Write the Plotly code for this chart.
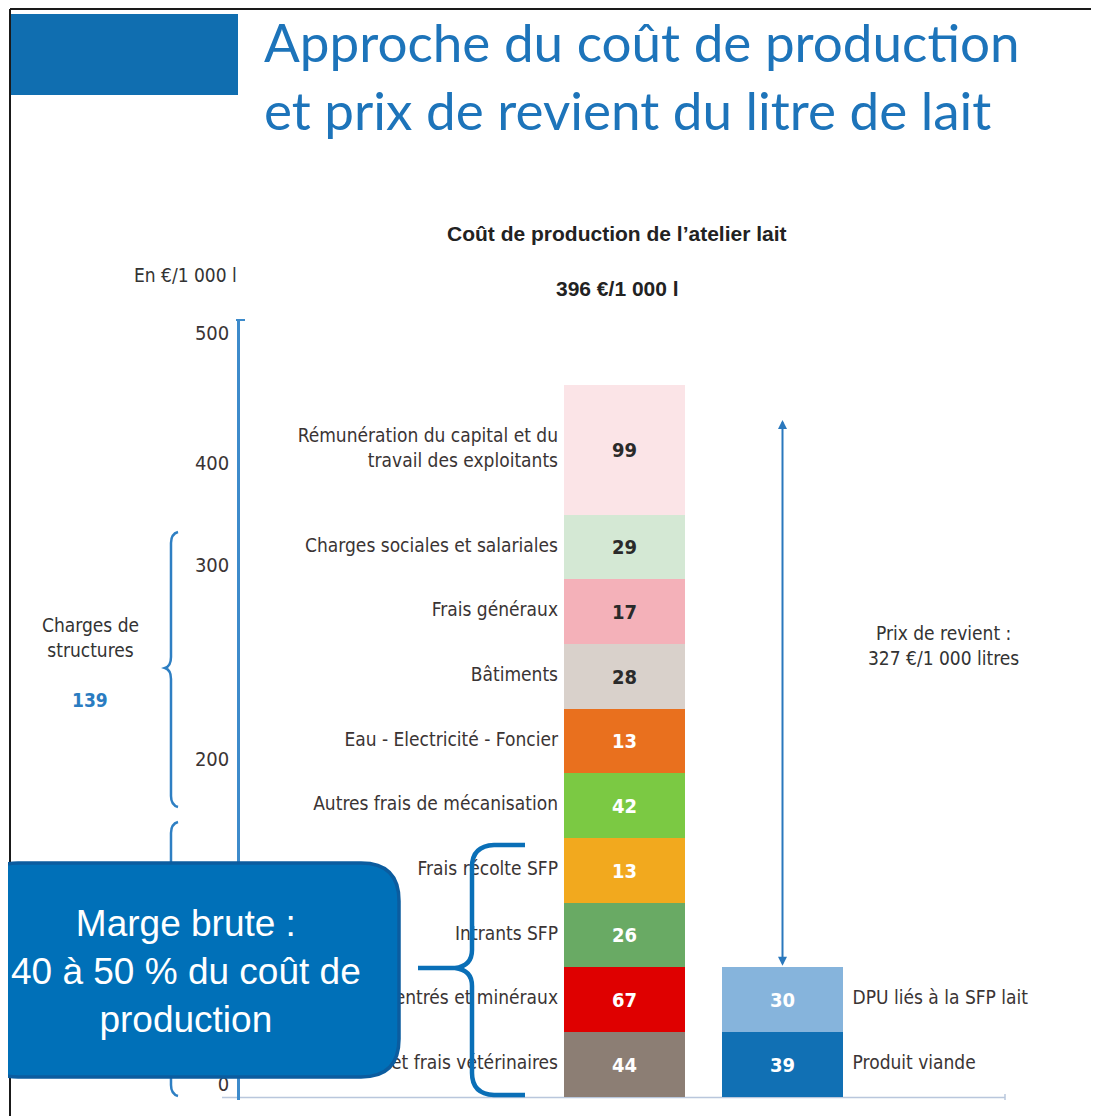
import plotly.graph_objects as go

REF_W, REF_H = 1099, 1116
OFF = 8                      # page body margin of the html page
W, H = REF_W - OFF, REF_H - OFF

# ---------------- data (bottom to top) ----------------
cost_labels = [
    "Frais d'élevage et frais vétérinaires",
    "Concentrés et minéraux",
    "Intrants SFP",
    "Frais récolte SFP",
    "Autres frais de mécanisation",
    "Eau - Electricité - Foncier",
    "Bâtiments",
    "Frais généraux",
    "Charges sociales et salariales",
    "Rémunération du capital et du<br>travail des exploitants",
]
cost_values = [44, 67, 26, 13, 42, 13, 28, 17, 29, 99]
cost_colors = ["#8c7e74", "#df0000", "#69aa64", "#f2a91e", "#7bc943",
               "#e9701e", "#d9d1cb", "#f4b1b9", "#d4e8d4", "#fbe4e7"]
cost_text_colors = ["white", "white", "white", "white", "white",
                    "white", "#2a2a2a", "#2a2a2a", "#2a2a2a", "#2a2a2a"]

prod_labels = ["Produit viande", "DPU liés à la SFP lait"]
prod_values = [39, 30]
prod_colors = ["#1170b4", "#86b4dc"]

y_tick_labels = ["0", "200", "300", "400", "500"]

# ---------------- layout helpers ----------------
NARROW = "Liberation Sans Narrow, Arial Narrow, DejaVu Sans Condensed, sans-serif"
SANS = "Liberation Sans, Arial, sans-serif"
UNIT = 64.65          # pixels per row of the infographic stack
BASE_PX = 1096.5      # pixel row of the stack base


def u(p):
    return (BASE_PX - p) / UNIT


def px(x):
    return (x - OFF) / W


def py(y):
    return 1 - (y - OFF) / H


y_tick_px = [1084, 759, 565, 463, 333]

# rows occupied by each block = number of lines of its label
cost_span = [lab.count("<br>") + 1 for lab in cost_labels]
cost_base = [sum(cost_span[:i]) for i in range(len(cost_span))]
prod_span = [lab.count("<br>") + 1 for lab in prod_labels]
prod_base = [sum(prod_span[:i]) for i in range(len(prod_span))]

BAR_STEP = 158.0      # px between bar centres
BAR_W = 121.0 / BAR_STEP
LABEL_GAP = 6.0 / BAR_STEP
x0_px, x1_px = 240, 1005
x_range = [0 - (624.5 - x0_px) / BAR_STEP, 1 + (x1_px - 782.5) / BAR_STEP]

fig = go.Figure()

fig.add_trace(go.Bar(
    x=[0] * len(cost_values), y=cost_span, base=cost_base, width=BAR_W,
    marker=dict(color=cost_colors, line=dict(width=0)),
    text=[str(v) for v in cost_values], textposition="inside",
    insidetextanchor="middle", textangle=0, constraintext="none",
    textfont=dict(color=cost_text_colors, size=20, family=NARROW, weight="bold"),
    hoverinfo="skip", showlegend=False, cliponaxis=False,
))
fig.add_trace(go.Bar(
    x=[1] * len(prod_values), y=prod_span, base=prod_base, width=BAR_W,
    marker=dict(color=prod_colors, line=dict(width=0)),
    text=[str(v) for v in prod_values], textposition="inside",
    insidetextanchor="middle", textangle=0, constraintext="none",
    textfont=dict(color="white", size=20, family=NARROW, weight="bold"),
    hoverinfo="skip", showlegend=False, cliponaxis=False,
))

# category labels (traces, so the callout box covers them)
fig.add_trace(go.Scatter(
    x=[0 - BAR_W / 2 - LABEL_GAP] * len(cost_labels),
    y=[b + s / 2 for b, s in zip(cost_base, cost_span)],
    mode="text", text=cost_labels, textposition="middle left",
    textfont=dict(size=19, color="#3a3434", family=NARROW),
    hoverinfo="skip", showlegend=False, cliponaxis=False,
))
fig.add_trace(go.Scatter(
    x=[1 + BAR_W / 2 + 1.6 * LABEL_GAP] * len(prod_labels),
    y=[b + s / 2 for b, s in zip(prod_base, prod_span)],
    mode="text", text=prod_labels, textposition="middle right",
    textfont=dict(size=19, color="#3a3434", family=NARROW),
    hoverinfo="skip", showlegend=False, cliponaxis=False,
))

shapes = []
line_blue = "#2e7fc3"

# frame and header decorations
shapes.append(dict(type="line", xref="paper", yref="paper", x0=px(10), x1=px(1099), y0=py(9), y1=py(9),
                   line=dict(color="#1a1a1a", width=2)))
shapes.append(dict(type="line", xref="paper", yref="paper", x0=px(10), x1=px(10), y0=py(9), y1=py(1116),
                   line=dict(color="#1a1a1a", width=2)))
shapes.append(dict(type="rect", xref="paper", yref="paper", x0=px(11), x1=px(238), y0=py(95), y1=py(14),
                   fillcolor="#106eb0", line=dict(width=0)))

# x base line and y axis cap
shapes.append(dict(type="line", xref="paper", yref="paper", x0=px(222), x1=px(1005), y0=py(1097.5), y1=py(1097.5),
                   line=dict(color="#b9c7dc", width=1.5), layer="below"))
shapes.append(dict(type="line", xref="paper", yref="paper", x0=px(1005), x1=px(1005), y0=py(1094), y1=py(1100),
                   line=dict(color="#b9c7dc", width=1.5)))
shapes.append(dict(type="line", xref="paper", yref="paper", x0=px(236), x1=px(245), y0=py(320), y1=py(320),
                   line=dict(color="#3d8bcb", width=2)))


def path(points_cmds):
    out = []
    for cmd in points_cmds:
        c = cmd[0]
        nums = cmd[1:]
        coords = []
        for i in range(0, len(nums), 2):
            coords.append(f"{px(nums[i]):.5f},{py(nums[i+1]):.5f}")
        out.append(c + " " + " ".join(coords))
    return " ".join(out)


def left_brace(xa, xs, xt, yt, ym, yb, r=11):
    return path([
        ("M", xa, yt), ("Q", xs, yt + 2, xs, yt + r), ("L", xs, ym - r),
        ("Q", xs, ym - 2, xt, ym), ("Q", xs, ym + 2, xs, ym + r), ("L", xs, yb - r),
        ("Q", xs, yb - 2, xa, yb),
    ])


shapes.append(dict(type="path", xref="paper", yref="paper",
                   path=left_brace(178, 171, 165, 532, 668, 807),
                   line=dict(color=line_blue, width=2.5)))
shapes.append(dict(type="path", xref="paper", yref="paper",
                   path=left_brace(178, 171, 165, 822, 959, 1096),
                   line=dict(color=line_blue, width=2.5)))


def rounded_rect(x0, y0, x1, y1, r):
    return path([
        ("M", x0 + r, y0), ("L", x1 - r, y0), ("Q", x1, y0, x1, y0 + r),
        ("L", x1, y1 - r), ("Q", x1, y1, x1 - r, y1), ("L", x0 + r, y1),
        ("Q", x0, y1, x0, y1 - r), ("L", x0, y0 + r), ("Q", x0, y0, x0 + r, y0),
    ]) + " Z"


shapes.append(dict(type="path", xref="paper", yref="paper", layer="above",
                   path=rounded_rect(-20, 863, 399, 1077, 38),
                   fillcolor="#0070b8", line=dict(color="#0b5c9f", width=3.5)))

big_brace = path([
    ("M", 525, 845), ("L", 494, 845), ("Q", 472, 846, 472, 867), ("L", 472, 950),
    ("Q", 472, 966, 455, 968), ("L", 418, 968),
    ("M", 455, 968), ("Q", 472, 970, 472, 986), ("L", 472, 1073),
    ("Q", 472, 1094, 494, 1095), ("L", 525, 1095),
])
shapes.append(dict(type="path", xref="paper", yref="paper", layer="above", path=big_brace,
                   line=dict(color="#0a6fb7", width=4.5)))

annotations = []


def ann(text, x, y, size, color="#333", family=NARROW, xanchor="center", weight="normal", align="center"):
    annotations.append(dict(text=text, x=px(x), y=py(y), xref="paper", yref="paper",
                            xanchor=xanchor, yanchor="middle", showarrow=False, align=align,
                            font=dict(size=size, color=color, family=family, weight=weight)))


TITLE_FONT = "Lato, Noto Sans, sans-serif"
ann("Approche du coût de production", 262, 42, 53, "#1d74ba", TITLE_FONT, xanchor="left")
ann("et prix de revient du litre de lait", 262, 110, 53, "#1d74ba", TITLE_FONT, xanchor="left")
ann("Coût de production de l’atelier lait", 617, 233, 21, "#222", SANS, weight="bold")
ann("396 €/1 000 l", 617, 288, 21, "#222", SANS, weight="bold")
ann("En €/1 000 l", 185, 275, 19, "#333")
ann("Charges de<br>structures", 90, 637, 19, "#333")
ann("139", 90, 700, 19, "#2a7cc1", weight="bold")
ann("Prix de revient :<br>327 €/1 000 litres", 943, 645, 19, "#333")
ann("Marge brute :<br>40 à 50 % du coût de<br>production", 186, 971, 37, "white", SANS)

# double arrow for the "prix de revient"
annotations.append(dict(x=1, y=u(420), ax=1, ay=sum(prod_span), xref="x", yref="y", axref="x", ayref="y",
                        showarrow=True, arrowside="end+start", arrowhead=2, arrowsize=0.9,
                        arrowwidth=2, arrowcolor="#2a78bd", text=""))

fig.update_layout(
    width=W, height=H, autosize=False,
    margin=dict(l=0, r=0, t=0, b=0, pad=0),
    paper_bgcolor="white", plot_bgcolor="rgba(0,0,0,0)",
    barmode="overlay", bargap=0,
    shapes=shapes, annotations=annotations,
    xaxis=dict(domain=[px(x0_px), px(x1_px)], range=x_range, visible=False, fixedrange=True),
    yaxis=dict(domain=[py(1100), py(320)], range=[u(1100), u(320)],
               showgrid=False, zeroline=False, showline=True, linecolor="#3d8bcb", linewidth=2.5,
               tickmode="array", tickvals=[u(p) for p in y_tick_px], ticktext=y_tick_labels,
               ticks="outside", ticklen=4, tickcolor="rgba(0,0,0,0)",
               tickfont=dict(size=20, color="#3a3434", family=NARROW), fixedrange=True),
)

fig.write_html("out.html")
